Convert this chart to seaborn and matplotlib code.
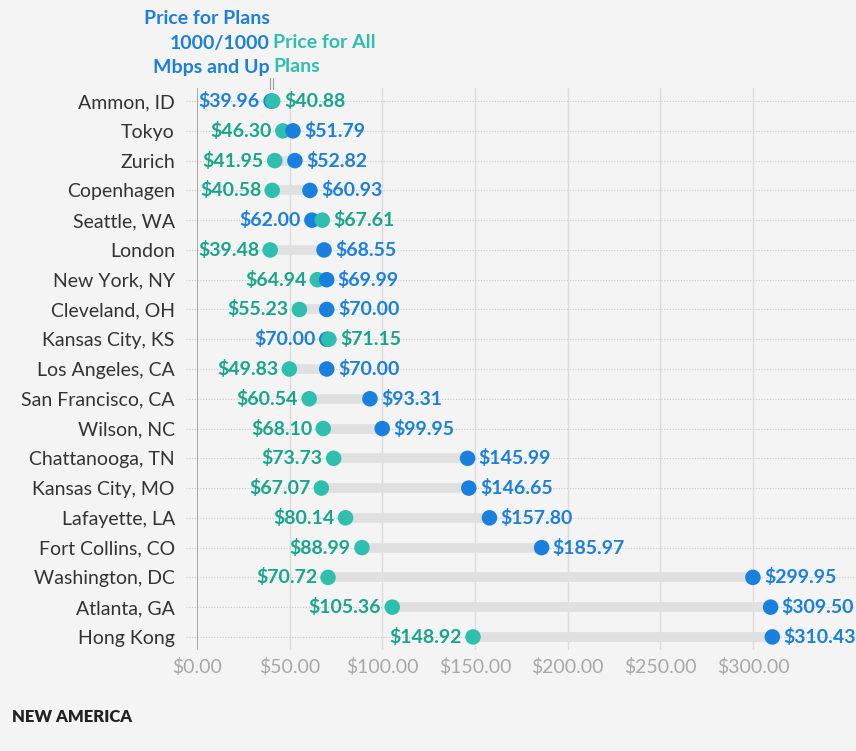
import matplotlib
matplotlib.use("Agg")
import matplotlib.pyplot as plt
import matplotlib.transforms as mtransforms
import pandas as pd
import seaborn as sns

# datos
cities = ["Ammon, ID", "Tokyo", "Zurich", "Copenhagen", "Seattle, WA", "London",
          "New York, NY", "Cleveland, OH", "Kansas City, KS", "Los Angeles, CA",
          "San Francisco, CA", "Wilson, NC", "Chattanooga, TN", "Kansas City, MO",
          "Lafayette, LA", "Fort Collins, CO", "Washington, DC", "Atlanta, GA",
          "Hong Kong"]
gig_price = [39.96, 51.79, 52.82, 60.93, 62.00, 68.55, 69.99, 70.00, 70.00, 70.00,
             93.31, 99.95, 145.99, 146.65, 157.80, 185.97, 299.95, 309.50, 310.43]
all_price = [40.88, 46.30, 41.95, 40.58, 67.61, 39.48, 64.94, 55.23, 71.15, 49.83,
             60.54, 68.10, 73.73, 67.07, 80.14, 88.99, 70.72, 105.36, 148.92]
xticks = [0, 50, 100, 150, 200, 250, 300]

BG = "#f4f4f4"
BLUE = "#1a80e0"
TEAL = "#2fbfae"
BLUE_TXT = "#1a7fdd"
TEAL_TXT = "#17a58c"
FONT = "Lato"
FS = 14

sns.set_theme(style="white")
plt.rcParams["font.family"] = [FONT, "DejaVu Sans"]

df = pd.DataFrame({"city": cities, "gig": gig_price, "all": all_price})
df["row"] = range(len(df))
long = df.melt(id_vars=["city", "row"], value_vars=["gig", "all"],
               var_name="serie", value_name="precio")
# el punto de mayor valor se dibuja encima
long = long.sort_values(["row", "precio"]).reset_index(drop=True)

fig = plt.figure(figsize=(8.56, 7.51), dpi=100, facecolor=BG)
ax = fig.add_axes([197 / 856, 1 - 650 / 751, 1 - 197 / 856, (650 - 88) / 751])
ax.set_facecolor(BG)

xmax = (856 - 197) / (556 / 300)
ax.set_xlim(0, xmax)
ax.set_ylim(len(cities) - 0.56, -0.44)

# rejilla vertical
for t in xticks[1:]:
    ax.axvline(t, color="#dcdcdc", lw=1, zorder=0)
ax.axvline(0, color="#9a9a9a", lw=1.2, zorder=1)

# lineas punteadas horizontales
trans = mtransforms.blended_transform_factory(ax.transAxes, ax.transData)
for r in df["row"]:
    ax.plot([-11 / 659, 1], [r, r], transform=trans, color="#c8c8c8", lw=0.8,
            ls=(0, (1, 1.5)), zorder=0.5, clip_on=False)

# barra gris entre los dos precios
for _, fila in df.iterrows():
    ax.plot([fila["gig"], fila["all"]], [fila["row"], fila["row"]],
            color="#e0e0e0", lw=7, solid_capstyle="butt", zorder=1.5)

sns.scatterplot(data=long, x="precio", y="row", hue="serie",
                palette={"gig": BLUE, "all": TEAL}, s=125, linewidth=0,
                legend=False, ax=ax, zorder=3, clip_on=False)

# etiquetas de valor
for _, fila in df.iterrows():
    r = fila["row"]
    vals = [(fila["gig"], BLUE_TXT), (fila["all"], TEAL_TXT)]
    vals.sort(key=lambda v: v[0])
    (lo, c_lo), (hi, c_hi) = vals
    ax.annotate(f"${lo:.2f}", (lo, r), xytext=(-8, 0), textcoords="offset points",
                ha="right", va="center", color=c_lo, fontsize=FS, fontweight="bold")
    ax.annotate(f"${hi:.2f}", (hi, r), xytext=(8, 0), textcoords="offset points",
                ha="left", va="center", color=c_hi, fontsize=FS, fontweight="bold",
                annotation_clip=False)

ax.set_yticks(df["row"])
ax.set_yticklabels(cities, fontsize=FS, color="#333333")
ax.set_xticks(xticks)
ax.set_xticklabels([f"${t:.2f}" for t in xticks], fontsize=FS, color="#a8a8a8")
ax.tick_params(axis="y", length=0, pad=16)
ax.tick_params(axis="x", length=0, pad=6)
for s in ax.spines.values():
    s.set_visible(False)
ax.set_xlabel("")
ax.set_ylabel("")

# encabezado tipo leyenda
fig.text(270 / 856, 1 - 18 / 751, "Price for Plans", ha="right", va="center",
         color=BLUE_TXT, fontsize=FS, fontweight="bold")
fig.text(270 / 856, 1 - 43 / 751, "1000/1000", ha="right", va="center",
         color=BLUE_TXT, fontsize=FS, fontweight="bold")
fig.text(270 / 856, 1 - 67 / 751, "Mbps and Up", ha="right", va="center",
         color=BLUE_TXT, fontsize=FS, fontweight="bold")
fig.text(273 / 856, 1 - 43 / 751, "Price for All", ha="left", va="center",
         color=TEAL, fontsize=FS, fontweight="bold")
fig.text(273 / 856, 1 - 67 / 751, "Plans", ha="left", va="center",
         color=TEAL, fontsize=FS, fontweight="bold")
for px in (270, 273):
    fig.add_artist(plt.Line2D([px / 856, px / 856], [1 - 78 / 751, 1 - 89 / 751],
                              color="#999999", lw=0.8))

fig.text(12 / 856, 1 - 717 / 751, "NEW AMERICA", ha="left", va="center",
         color="#222222", fontsize=12, fontweight="heavy")

fig.savefig("out.png", dpi=100, facecolor=BG)
